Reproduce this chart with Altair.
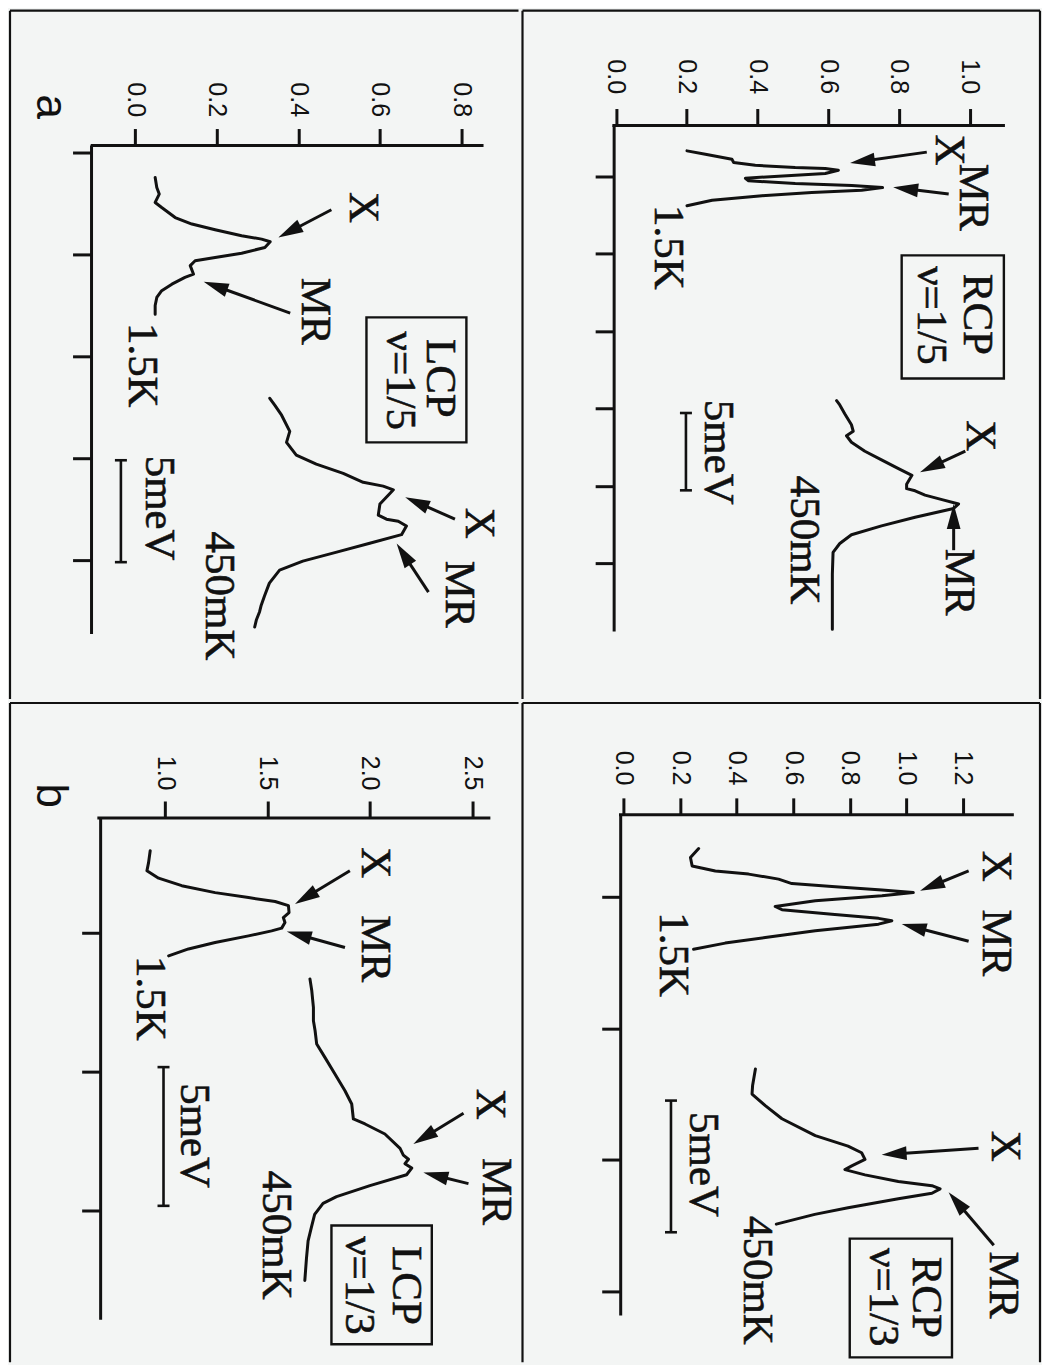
import math
import pandas as pd
import altair as alt

INK = "#111111"
BG = "#f3f5f4"
SERIF = "Liberation Serif"
SANS = "Liberation Sans"

# ---------------- data: v = PL intensity (a.u.), E = energy (meV, relative to first tick) ----------------
# (a) top: LCP, nu = 1/5
a_lcp_15K_v = [0.049, 0.053, 0.059, 0.049, 0.065, 0.098, 0.139, 0.196, 0.261, 0.310, 0.331, 0.318,
               0.261, 0.196, 0.147, 0.135, 0.143, 0.122, 0.090, 0.065, 0.053, 0.049, 0.049]
a_lcp_15K_E = [1.23, 1.72, 2.04, 2.45, 2.70, 3.19, 3.51, 3.79, 4.08, 4.25, 4.38, 4.66,
               4.94, 5.15, 5.31, 5.55, 5.97, 6.13, 6.46, 6.78, 7.11, 7.51, 7.93]
a_lcp_450_v = [0.330, 0.343, 0.359, 0.379, 0.371, 0.395, 0.444, 0.510, 0.559, 0.608, 0.633, 0.625,
               0.600, 0.596, 0.616, 0.645, 0.665, 0.653, 0.575, 0.494, 0.411, 0.354, 0.329, 0.317,
               0.309, 0.305, 0.297, 0.293]
a_lcp_450_E = [12.06, 12.42, 12.89, 13.68, 14.22, 14.85, 15.29, 15.74, 16.18, 16.37, 16.55, 16.72,
               17.25, 17.79, 17.99, 18.09, 18.33, 18.75, 19.17, 19.61, 20.05, 20.49, 21.13, 21.76,
               22.21, 22.53, 22.94, 23.28]

# (a) bottom: RCP, nu = 1/5
a_rcp_15K_v = [0.201, 0.253, 0.328, 0.333, 0.394, 0.507, 0.592, 0.629, 0.592, 0.460, 0.366, 0.375,
               0.507, 0.667, 0.754, 0.695, 0.554, 0.413, 0.272, 0.201]
a_rcp_15K_E = [-1.65, -1.43, -1.11, -0.90, -0.72, -0.57, -0.51, -0.40, -0.19, -0.01, 0.12, 0.28,
               0.46, 0.59, 0.72, 0.89, 1.04, 1.25, 1.54, 1.90]
a_rcp_450_v = [0.624, 0.633, 0.647, 0.666, 0.671, 0.652, 0.666, 0.704, 0.751, 0.799, 0.837, 0.822,
               0.822, 0.846, 0.874, 0.922, 0.969, 0.955, 0.846, 0.751, 0.666, 0.633, 0.614, 0.612,
               0.612, 0.612]
a_rcp_450_E = [14.50, 14.78, 15.35, 16.06, 16.48, 16.77, 17.19, 17.77, 18.33, 18.90, 19.33, 19.90,
               20.19, 20.33, 20.61, 20.90, 21.18, 21.47, 22.04, 22.60, 23.17, 23.74, 24.31, 25.73,
               27.44, 29.28]

# (b) top: LCP, nu = 1/3
b_lcp_15K_v = [0.927, 0.919, 0.911, 0.968, 1.081, 1.244, 1.407, 1.537, 1.602, 1.605, 1.577, 1.585,
               1.569, 1.520, 1.407, 1.244, 1.114, 1.017]
b_lcp_15K_E = [-2.95, -2.52, -2.23, -1.96, -1.69, -1.44, -1.26, -1.12, -0.97, -0.72, -0.54, -0.36,
               -0.16, -0.06, 0.12, 0.36, 0.59, 0.84]
b_lcp_450_v = [1.707, 1.716, 1.724, 1.724, 1.732, 1.740, 1.780, 1.829, 1.878, 1.911, 1.919, 1.976,
               2.073, 2.147, 2.163, 2.188, 2.171, 2.204, 2.179, 2.000, 1.837, 1.771, 1.730, 1.714,
               1.698, 1.690, 1.682]
b_lcp_450_E = [1.67, 2.10, 2.70, 3.18, 3.53, 4.02, 4.50, 5.10, 5.70, 6.18, 6.72, 6.90,
               7.26, 7.78, 8.02, 8.17, 8.33, 8.49, 8.73, 9.12, 9.52, 9.76, 10.16, 10.63,
               11.11, 11.74, 12.54]

# (b) bottom: RCP, nu = 1/3
b_rcp_15K_v = [0.265, 0.236, 0.242, 0.324, 0.442, 0.548, 0.595, 0.737, 0.914, 1.025, 0.914, 0.678,
               0.536, 0.560, 0.737, 0.902, 0.949, 0.902, 0.678, 0.501, 0.359, 0.247]
b_rcp_15K_E = [-1.82, -1.48, -1.16, -0.97, -0.85, -0.66, -0.49, -0.38, -0.25, -0.15, -0.03, 0.16,
               0.38, 0.50, 0.67, 0.83, 0.92, 1.05, 1.30, 1.56, 1.77, 2.00]
b_rcp_450_v = [0.466, 0.456, 0.454, 0.501, 0.560, 0.678, 0.794, 0.842, 0.854, 0.807, 0.783, 0.854,
               0.972, 1.091, 1.120, 1.091, 0.972, 0.794, 0.676, 0.540]
b_rcp_450_E = [6.55, 7.18, 7.50, 7.94, 8.44, 9.08, 9.48, 9.73, 9.98, 10.23, 10.37, 10.57,
               10.82, 10.98, 11.10, 11.27, 11.48, 11.82, 12.07, 12.44]

# tick values of each panel
a_lcp_vticks = [0.0, 0.2, 0.4, 0.6, 0.8]
a_rcp_vticks = [0.0, 0.2, 0.4, 0.6, 0.8, 1.0]
b_lcp_vticks = [1.0, 1.5, 2.0, 2.5]
b_rcp_vticks = [0.0, 0.2, 0.4, 0.6, 0.8, 1.0, 1.2]
a_lcp_eticks = [0, 5, 10, 15, 20]
a_rcp_eticks = [0, 5, 10, 15, 20, 25]
b_lcp_eticks = [0, 5, 10]
b_rcp_eticks = [0, 5, 10, 15]

# annotations: (text, v, E)
a_lcp_texts = [("X", 0.558, 2.70), ("MR", 0.440, 7.79), ("1.5K", 0.016, 10.44), ("5meV", 0.058, 17.45),
               ("X", 0.844, 18.19), ("MR", 0.793, 21.67), ("450mK", 0.205, 21.76),
               ("LCP", 0.748, 11.08), ("ν=1/5", 0.648, 11.20)]
a_rcp_texts = [("X", 0.942, -1.71), ("MR", 1.011, 1.34), ("1.5K", 0.148, 4.59), ("5meV", 0.290, 17.84),
               ("X", 1.030, 16.77), ("MR", 0.970, 26.23), ("450mK", 0.532, 23.52),
               ("RCP", 1.021, 8.92), ("ν=1/5", 0.891, 8.99)]
b_lcp_texts = [("X", 2.023, -2.52), ("MR", 2.025, 0.58), ("1.5K", 0.925, 2.37), ("5meV", 1.142, 7.32),
               ("X", 2.584, 6.19), ("MR", 2.613, 9.33), ("450mK", 1.539, 10.91),
               ("LCP", 2.174, 12.72), ("ν=1/3", 1.947, 12.72)]
b_rcp_texts = [("X", 1.318, -1.15), ("MR", 1.318, 1.76), ("1.5K", 0.175, 2.21), ("5meV", 0.282, 10.18),
               ("X", 1.348, 9.48), ("MR", 1.343, 14.75), ("450mK", 0.473, 14.58),
               ("RCP", 1.070, 15.22), ("ν=1/3", 0.917, 15.22)]

# arrows: (tail v, tail E, tip v, tip E)
a_lcp_arrows = [(0.481, 2.81, 0.351, 4.17), (0.380, 7.88, 0.168, 6.34),
                (0.784, 17.99, 0.662, 16.91), (0.719, 21.57, 0.641, 19.19)]
a_rcp_arrows = [(0.879, -1.57, 0.662, -0.86), (0.941, 1.14, 0.784, 0.71),
                (0.988, 17.77, 0.860, 19.13), (0.955, 24.17, 0.955, 21.18)]
b_lcp_arrows = [(1.902, -2.23, 1.634, -1.03), (1.878, 0.54, 1.594, -0.04),
                (2.457, 6.51, 2.212, 7.62), (2.481, 9.05, 2.261, 8.65)]
b_rcp_arrows = [(1.221, -0.97, 1.049, -0.22), (1.221, 1.70, 0.984, 1.04),
                (1.256, 9.56, 0.913, 9.81), (1.310, 13.24, 1.150, 11.23)]

# label boxes: (v1, v2, E1, E2)
a_lcp_box = (0.567, 0.812, 8.09, 14.22)
a_rcp_box = (0.808, 1.097, 5.11, 13.07)
b_lcp_box = (1.812, 2.302, 10.56, 14.84)
b_rcp_box = (0.800, 1.162, 12.99, 17.50)

# 5 meV scale bars: (v, E start)
a_lcp_bar = (-0.035, 15.1)
a_rcp_bar = (0.198, 15.3)
b_lcp_bar = (0.992, 4.85)
b_rcp_bar = (0.167, 7.75)

# axis lines: value axis (v from, v to, at E); energy axis (at v, E from, E to)
a_lcp_axes = ((-0.109, 0.854, -0.343), (-0.107, -0.343, 23.63))
a_rcp_axes = ((-0.010, 1.100, -3.29), (-0.005, -3.29, 29.43))
b_lcp_axes = ((0.669, 2.588, -4.13), (0.685, -4.13, 13.96))
b_rcp_axes = ((-0.017, 1.381, -3.10), (-0.011, -3.10, 15.91))

# panel letters
a_letter = ("a", -0.210, -2.25)
b_letter = ("b", 0.440, -4.93)

# ---------------- layout (pixel geometry of each panel) ----------------
LAYOUT = {
    "a_lcp": dict(W=509, H=689, v0=125.3, kx=408.3, e0=142.0, ky=20.4, lpad=12, right=False),
    "a_rcp": dict(W=518, H=689, v0=93.5, kx=354.0, e0=165.9, ky=15.48, lpad=15, right=True),
    "b_lcp": dict(W=509, H=660, v0=-49.7, kx=205.0, e0=229.8, ky=27.77, lpad=11, right=False),
    "b_rcp": dict(W=518, H=660, v0=101.4, kx=282.7, e0=193.7, ky=26.36, lpad=13, right=True),
}

ARROW_PATH = "M0,0 L0.55,2 L-0.55,2 Z"
HEAD = 25
LW = 3.0
AXW = 3.0
TXT = 43


def build_panel(cfg, curves, texts, arrows, box, bar, vticks, eticks, axes, letter=None):
    W, H = cfg["W"], cfg["H"]
    v0, kx, e0, ky = cfg["v0"], cfg["kx"], cfg["e0"], cfg["ky"]
    (va1, va2, vaE), (eav, eaE1, eaE2) = axes
    xs = alt.Scale(domain=[-v0 / kx, (W - v0) / kx], nice=False, zero=False)
    ys = alt.Scale(domain=[-e0 / ky, (H - e0) / ky], nice=False, zero=False, reverse=True)
    xaxis = alt.Axis(orient="top", offset=-(vaE * ky + e0), values=vticks, format=".1f",
                     labelAngle=90, labelAlign="right", labelBaseline="middle",
                     labelFont=SANS, labelFontSize=25, labelColor=INK, labelPadding=cfg["lpad"],
                     labelFlush=False, labelOverlap=False,
                     tickSize=17, tickWidth=AXW, tickColor=INK, domain=False, grid=False, title=None)
    yaxis = alt.Axis(orient="left", offset=-(eav * kx + v0), values=eticks, labels=False,
                     tickSize=19, tickWidth=AXW, tickColor=INK, domain=False, grid=False, title=None)

    def X(f):
        return alt.X(f + ":Q", scale=xs, axis=xaxis)

    def Y(f):
        return alt.Y(f + ":Q", scale=ys, axis=yaxis)

    one = pd.DataFrame({"d": [0]})
    layers = []
    # panel frame
    layers.append(alt.Chart(one).mark_rule(color=INK, strokeWidth=2.2).encode(
        x=alt.value(0), x2=alt.value(W), y=alt.value(0)))
    layers.append(alt.Chart(one).mark_rule(color=INK, strokeWidth=2.2).encode(
        x=alt.value(0), y=alt.value(0), y2=alt.value(H)))
    if cfg["right"]:
        layers.append(alt.Chart(one).mark_rule(color=INK, strokeWidth=2.2).encode(
            x=alt.value(W), y=alt.value(0), y2=alt.value(H)))

    # axis lines
    ax = pd.DataFrame({"v": [va1, eav], "v2": [va2, eav], "E": [vaE, eaE1], "E2": [vaE, eaE2]})
    layers.append(alt.Chart(ax).mark_rule(color=INK, strokeWidth=AXW).encode(
        x=X("v"), x2="v2:Q", y=Y("E"), y2="E2:Q"))

    # curves
    rows = []
    for name, (vv, ee) in curves.items():
        for i, (a, b) in enumerate(zip(vv, ee)):
            rows.append({"c": name, "i": i, "v": a, "E": b})
    cdf = pd.DataFrame(rows)
    layers.append(alt.Chart(cdf).mark_line(color=INK, strokeWidth=LW, strokeJoin="round",
                                           strokeCap="round").encode(
        x=X("v"), y=Y("E"), detail="c:N", order="i:Q"))

    # arrows
    shafts, heads = [], []
    for (tv, te, hv, he) in arrows:
        dx = (hv - tv) * kx
        dy = (he - te) * ky
        L = math.hypot(dx, dy)
        ang = math.degrees(math.atan2(dx, -dy)) % 360
        back = HEAD * 0.5
        shafts.append({"v": tv, "E": te, "v2": hv - dx / L * back / kx, "E2": he - dy / L * back / ky})
        heads.append({"v": hv, "E": he, "ang": ang})
    layers.append(alt.Chart(pd.DataFrame(shafts)).mark_rule(color=INK, strokeWidth=3.0).encode(
        x=X("v"), x2="v2:Q", y=Y("E"), y2="E2:Q"))
    layers.append(alt.Chart(pd.DataFrame(heads)).mark_point(
        shape=ARROW_PATH, filled=True, size=HEAD * HEAD, color=INK, opacity=1, strokeWidth=0).encode(
        x=X("v"), y=Y("E"), angle=alt.Angle("ang:Q", scale=None)))

    # 5 meV scale bar with end caps
    bv, bE = bar
    cap = 6.0 / kx
    bdf = pd.DataFrame({"v": [bv, bv - cap, bv - cap], "v2": [bv, bv + cap, bv + cap],
                        "E": [bE, bE, bE + 5], "E2": [bE + 5, bE, bE + 5]})
    layers.append(alt.Chart(bdf).mark_rule(color=INK, strokeWidth=2.6).encode(
        x=X("v"), x2="v2:Q", y=Y("E"), y2="E2:Q"))

    # box around polarization / filling factor
    bxdf = pd.DataFrame({"v": [box[0]], "v2": [box[1]], "E": [box[2]], "E2": [box[3]]})
    layers.append(alt.Chart(bxdf).mark_rect(fillOpacity=0, stroke=INK, strokeWidth=2.4).encode(
        x=X("v"), x2="v2:Q", y=Y("E"), y2="E2:Q"))

    # annotation texts
    tdf = pd.DataFrame([{"t": t, "v": a, "E": b} for (t, a, b) in texts])
    layers.append(alt.Chart(tdf).mark_text(angle=90, font=SERIF, fontSize=TXT, color=INK,
                                           stroke=INK, strokeWidth=0.6,
                                           align="center", baseline="middle").encode(
        x=X("v"), y=Y("E"), text="t:N"))

    if letter is not None:
        ldf = pd.DataFrame([{"t": letter[0], "v": letter[1], "E": letter[2]}])
        layers.append(alt.Chart(ldf).mark_text(angle=90, font=SANS, fontSize=44, color=INK,
                                               align="center", baseline="middle").encode(
            x=X("v"), y=Y("E"), text="t:N"))

    return alt.layer(*layers).properties(width=W, height=H)


p_a_lcp = build_panel(LAYOUT["a_lcp"], {"1.5K": (a_lcp_15K_v, a_lcp_15K_E), "450mK": (a_lcp_450_v, a_lcp_450_E)},
                      a_lcp_texts, a_lcp_arrows, a_lcp_box, a_lcp_bar, a_lcp_vticks, a_lcp_eticks,
                      a_lcp_axes, a_letter)
p_a_rcp = build_panel(LAYOUT["a_rcp"], {"1.5K": (a_rcp_15K_v, a_rcp_15K_E), "450mK": (a_rcp_450_v, a_rcp_450_E)},
                      a_rcp_texts, a_rcp_arrows, a_rcp_box, a_rcp_bar, a_rcp_vticks, a_rcp_eticks,
                      a_rcp_axes)
p_b_lcp = build_panel(LAYOUT["b_lcp"], {"1.5K": (b_lcp_15K_v, b_lcp_15K_E), "450mK": (b_lcp_450_v, b_lcp_450_E)},
                      b_lcp_texts, b_lcp_arrows, b_lcp_box, b_lcp_bar, b_lcp_vticks, b_lcp_eticks,
                      b_lcp_axes, b_letter)
p_b_rcp = build_panel(LAYOUT["b_rcp"], {"1.5K": (b_rcp_15K_v, b_rcp_15K_E), "450mK": (b_rcp_450_v, b_rcp_450_E)},
                      b_rcp_texts, b_rcp_arrows, b_rcp_box, b_rcp_bar, b_rcp_vticks, b_rcp_eticks,
                      b_rcp_axes)

top = alt.hconcat(p_a_lcp, p_a_rcp, spacing=0)
bottom = alt.hconcat(p_b_lcp, p_b_rcp, spacing=0)
chart = alt.vconcat(top, bottom, spacing=0).properties(padding=0, background=BG).configure_view(strokeWidth=0)

chart.save("out.html", embed_options={"renderer": "svg", "actions": False})
